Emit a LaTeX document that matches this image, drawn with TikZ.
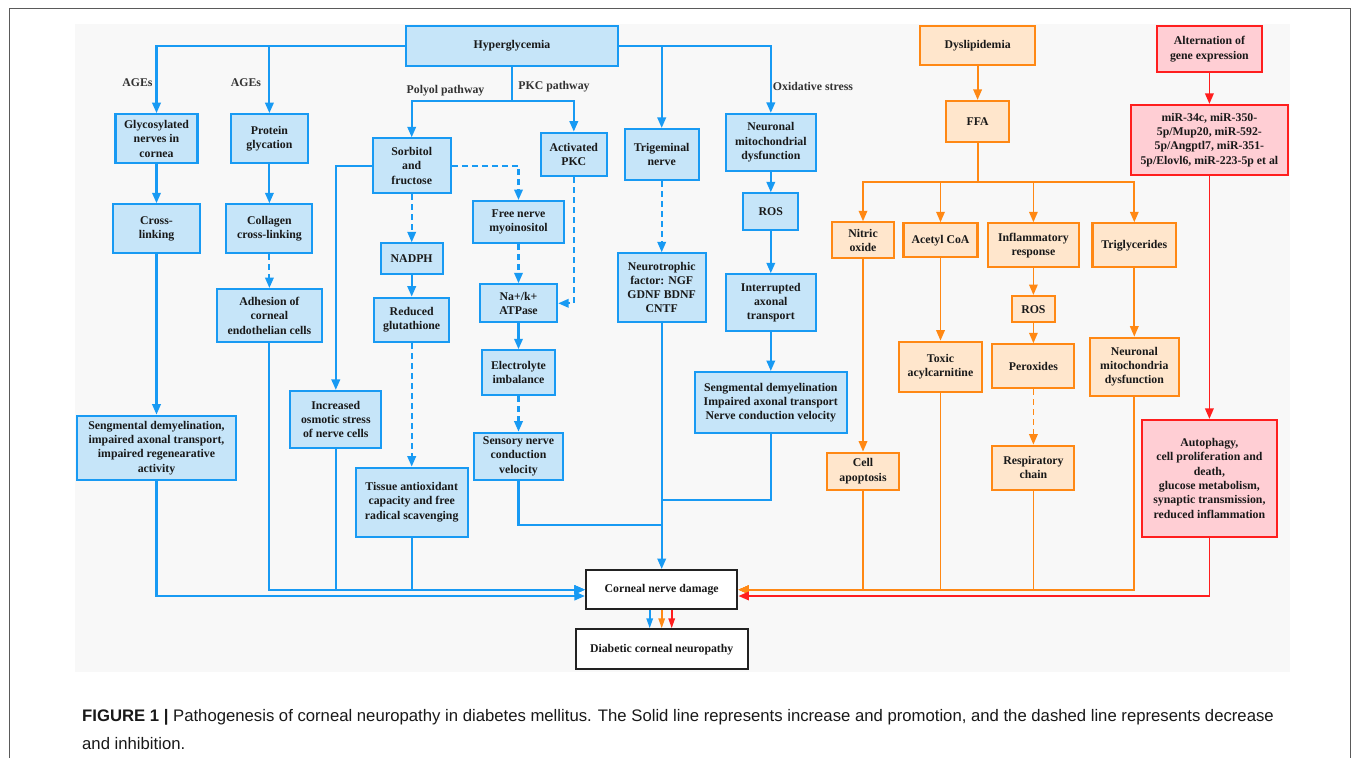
\documentclass[tikz,border=0pt]{standalone}
\usepackage{fontspec}
\setmainfont{Liberation Serif}
\newfontfamily\capfont{Liberation Sans}
\usetikzlibrary{arrows.meta,calc}
\definecolor{bline}{RGB}{24,154,243}
\definecolor{bfill}{RGB}{198,229,249}
\definecolor{oline}{RGB}{255,136,20}
\definecolor{ofill}{RGB}{255,230,204}
\definecolor{rline}{RGB}{255,30,30}
\definecolor{rfill}{RGB}{255,206,212}
\definecolor{kline}{RGB}{34,34,34}
\definecolor{txt}{RGB}{25,25,25}
\definecolor{lbltxt}{RGB}{50,50,50}
\definecolor{panel}{RGB}{248,248,248}
\definecolor{frame}{RGB}{90,90,90}
\begin{document}
\begin{tikzpicture}[x=1pt,y=-1pt,
  box/.style={draw, line width=2.1pt, align=center, inner sep=0pt, text=txt,
    font=\fontsize{11.8}{14.3}\selectfont\bfseries},
  bluebox/.style={box, draw=bline, fill=bfill},
  orangebox/.style={box, draw=oline, fill=ofill},
  redbox/.style={box, draw=rline, fill=rfill},
  blackbox/.style={box, draw=kline, fill=white},
  lbl/.style={inner sep=0pt, text=lbltxt, font=\fontsize{11.8}{14.3}\selectfont\bfseries},
  tip/.style={-{Triangle[length=10.5pt,width=8.5pt]}},
  smalltip/.style={-{Triangle[length=10pt,width=6.5pt]}},
  blp/.style={draw=bline, line width=2.1pt},
  bl/.style={blp, tip},
  bld/.style={bl, dash pattern=on 6pt off 4pt},
  olp/.style={draw=oline, line width=1.8pt},
  ol/.style={olp, tip},
  old/.style={ol, dash pattern=on 6pt off 4pt},
  rlp/.style={draw=rline, line width=1.8pt},
  rl/.style={rlp, tip},
  captxt/.style={inner sep=0pt, anchor=west, text=txt, font=\capfont\fontsize{16.7}{19}\selectfont}
]
\useasboundingbox (0,0) rectangle (1355,758);
\fill[white] (0,0) rectangle (1355,758);
\draw[frame, line width=1pt] (9,758) -- (9,8) -- (1350,8) -- (1350,758);
\fill[panel] (75,24) rectangle (1290,672);

% ---------- blue boxes ----------
\node[bluebox, minimum width=212pt, minimum height=40pt] (hyper) at (512,46) {Hyperglycemia};
\node[bluebox, minimum width=82pt, minimum height=49pt] (glyc) at (156.5,138.7) {Glycosylated\\nerves in\\cornea};
\node[bluebox, minimum width=77.6pt, minimum height=49pt] (prot) at (269.4,138.7) {Protein\\glycation};
\node[bluebox, minimum width=86.4pt, minimum height=49pt] (cross) at (156.5,228.8) {Cross-\\linking};
\node[bluebox, minimum width=86pt, minimum height=49pt] (coll) at (269.4,228.8) {Collagen\\cross-linking};
\node[bluebox, minimum width=105.3pt, minimum height=53.3pt] (adh) at (269.4,315.7) {Adhesion of\\corneal\\endothelian cells};
\node[bluebox, minimum width=159.3pt, minimum height=64.3pt] (seg1) at (156.5,447.8) {Sengmental demyelination,\\impaired axonal transport,\\impaired regenearative\\activity};
\node[bluebox, minimum width=78pt, minimum height=55pt] (sorb) at (411.7,165.8) {Sorbitol\\and\\fructose};
\node[bluebox, minimum width=61.7pt, minimum height=31pt] (nadph) at (411.7,258.8) {NADPH};
\node[bluebox, minimum width=75.3pt, minimum height=44.6pt] (redglu) at (411.7,320) {Reduced\\glutathione};
\node[bluebox, minimum width=91pt, minimum height=57pt] (osm) at (335.8,419.5) {Increased\\osmotic stress\\of nerve cells};
\node[bluebox, minimum width=112.3pt, minimum height=69pt] (tissue) at (411.7,502.2) {Tissue antioxidant\\capacity and free\\radical scavenging};
\node[bluebox, minimum width=65.7pt, minimum height=43.3pt] (pkc) at (573.8,154.3) {Activated\\PKC};
\node[bluebox, minimum width=90.4pt, minimum height=42.3pt] (myo) at (518.5,222.2) {Free nerve\\myoinositol};
\node[bluebox, minimum width=77.3pt, minimum height=38pt] (nak) at (518.5,303.3) {Na+/k+\\ATPase};
\node[bluebox, minimum width=72.7pt, minimum height=45pt] (elec) at (518.5,372.8) {Electrolyte\\imbalance};
\node[bluebox, minimum width=89.6pt, minimum height=47.3pt] (sens) at (518.5,456.3) {Sensory nerve\\conduction\\velocity};
\node[bluebox, minimum width=74pt, minimum height=51pt] (trig) at (661.7,154.5) {Trigeminal\\nerve};
\node[bluebox, minimum width=88pt, minimum height=68.4pt] (neuro) at (661.7,287.5) {Neurotrophic\\factor: NGF\\GDNF BDNF\\CNTF};
\node[bluebox, minimum width=90.3pt, minimum height=56.7pt] (nmd) at (770.8,142.3) {Neuronal\\mitochondrial\\dysfunction};
\node[bluebox, minimum width=55pt, minimum height=36.7pt] (ros) at (770.8,211.7) {ROS};
\node[bluebox, minimum width=90.3pt, minimum height=56.4pt] (iat) at (770.8,302.5) {Interrupted\\axonal\\transport};
\node[bluebox, minimum width=152.3pt, minimum height=61.3pt] (seg2) at (770.8,402.7) {Sengmental demyelination\\Impaired axonal transport\\Nerve conduction velocity};

% ---------- orange boxes ----------
\node[orangebox, minimum width=115pt, minimum height=39pt] (dys) at (977.6,45.5) {Dyslipidemia};
\node[orangebox, minimum width=63.3pt, minimum height=40.7pt] (ffa) at (977.6,121.3) {FFA};
\node[orangebox, minimum width=62.3pt, minimum height=36pt] (no) at (863,240.3) {Nitric\\oxide};
\node[orangebox, minimum width=74pt, minimum height=34pt] (acoa) at (940.5,240.3) {Acetyl CoA};
\node[orangebox, minimum width=90.4pt, minimum height=44pt] (infl) at (1033.4,245.3) {Inflammatory\\response};
\node[orangebox, minimum width=83.7pt, minimum height=44pt] (trigly) at (1134.3,245.3) {Triglycerides};
\node[orangebox, minimum width=42.4pt, minimum height=26.3pt] (ros2) at (1033.4,309.2) {ROS};
\node[orangebox, minimum width=82pt, minimum height=44pt] (perox) at (1033.4,366.3) {Peroxides};
\node[orangebox, minimum width=82pt, minimum height=44.3pt] (resp) at (1033.4,467.8) {Respiratory\\chain};
\node[orangebox, minimum width=71.7pt, minimum height=37.3pt] (apop) at (863,471.3) {Cell\\apoptosis};
\node[orangebox, minimum width=83.3pt, minimum height=50pt] (toxic) at (940.5,366.7) {Toxic\\acylcarnitine};
\node[orangebox, minimum width=89pt, minimum height=58pt] (nmito) at (1134.3,366.7) {Neuronal\\mitochondria\\dysfunction};

% ---------- red boxes ----------
\node[redbox, minimum width=104.4pt, minimum height=46.3pt] (alt) at (1209.4,49.2) {Alternation of\\gene expression};
\node[redbox, minimum width=157.6pt, minimum height=69.7pt] (mir) at (1209.4,139.8) {miR-34c, miR-350-\\5p/Mup20, miR-592-\\5p/Angptl7, miR-351-\\5p/Elovl6, miR-223-5p et al};
\node[redbox, minimum width=135pt, minimum height=116.7pt] (auto) at (1209.4,478.3) {Autophagy,\\cell proliferation and\\death,\\glucose metabolism,\\synaptic transmission,\\reduced inflammation};

% ---------- black boxes ----------
\node[blackbox, minimum width=151.4pt, minimum height=39.3pt] (cnd) at (661.7,589.7) {Corneal nerve damage};
\node[blackbox, minimum width=172pt, minimum height=40pt] (dcn) at (661.7,649.3) {Diabetic corneal neuropathy};

% ---------- labels ----------
\node[lbl] (lages1) at (137.5,83) {AGEs};
\node[lbl] (lages2) at (246,83) {AGEs};
\node[lbl] (lpoly) at (445.5,91) {Polyol pathway};
\node[lbl] (lpkc) at (554,86.7) {PKC pathway};
\node[lbl] (lox) at (813,86.7) {Oxidative stress};

% ---------- blue connectors ----------
\draw[bl] (hyper.west) -| (glyc.north);
\draw[bl] (hyper.west) -| (prot.north);
\draw[bl] (hyper.east) -| (trig.north);
\draw[bl] (hyper.east) -| (nmd.north);
\coordinate (hsplit) at ($(hyper.south)+(0,34)$);
\draw[bl] (hyper.south) -- (hsplit) -| (sorb.north);
\draw[bl] (hsplit) -| (pkc.north);
\draw[bl] (glyc.south) -- (cross.north);
\draw[bl] (cross.south) -- (seg1.north);
\draw[bl] (prot.south) -- (coll.north);
\draw[bld] (coll.south) -- (adh.north);
\draw[bld] (sorb.east) -| (myo.north);
\draw[bl] (sorb.west) -| (osm.north);
\draw[bld] (sorb.south) -- (nadph.north);
\draw[bl] (nadph.south) -- (redglu.north);
\draw[bld] (redglu.south) -- (tissue.north);
\draw[bld] (pkc.south) |- (nak.east);
\draw[bld] (myo.south) -- (nak.north);
\draw[bl] (nak.south) -- (elec.north);
\draw[bld] (elec.south) -- (sens.north);
\draw[bld] (trig.south) -- (neuro.north);
\draw[bl] (nmd.south) -- (ros.north);
\draw[bl] (ros.south) -- (iat.north);
\draw[bl] (iat.south) -- (seg2.north);

\coordinate (inL2) at ($(cnd.west)+(0,6.3)$);
\draw[bl] (seg1.south) |- (inL2);
\draw[bl] (adh.south) |- (cnd.west);
\draw[bl] (osm.south) |- (cnd.west);
\draw[bl] (tissue.south) |- (cnd.west);
\coordinate (j1) at (661.7,525);
\coordinate (j2) at (661.7,500);
\draw[blp] (sens.south) |- (j1);
\draw[blp] (seg2.south) |- (j2);
\draw[bl] (neuro.south) -- (cnd.north);

% ---------- orange connectors ----------
\draw[ol] (dys.south) -- (ffa.north);
\coordinate (ofork) at (977.6,182.3);
\draw[olp] (ffa.south) -- (ofork);
\draw[ol] (ofork) -| (no.north);
\draw[ol] (ofork) -| (acoa.north);
\draw[ol] (ofork) -| (infl.north);
\draw[ol] (ofork) -| (trigly.north);
\draw[ol] (infl.south) -- (ros2.north);
\draw[ol] (ros2.south) -- (perox.north);
\draw[old] (perox.south) -- (resp.north);
\draw[ol] (no.south) -- (apop.north);
\draw[ol] (acoa.south) -- (toxic.north);
\draw[ol] (trigly.south) -- (nmito.north);
\draw[ol] (apop.south) |- (cnd.east);
\draw[ol] (toxic.south) |- (cnd.east);
\draw[ol] (resp.south) |- (cnd.east);
\draw[ol] (nmito.south) |- (cnd.east);

% ---------- red connectors ----------
\draw[rl] (alt.south) -- (mir.north);
\draw[rl] (mir.south) -- (auto.north);
\coordinate (inR2) at ($(cnd.east)+(0,6.3)$);
\draw[rl] (auto.south) |- (inR2);

% ---------- to final box ----------
\draw[draw=bline, line width=1.6pt, smalltip] ($(cnd.south)+(-12,0)$) -- ($(dcn.north)+(-12,0)$);
\draw[draw=oline, line width=1.6pt, smalltip] (cnd.south) -- (dcn.north);
\draw[draw=rline, line width=1.6pt, smalltip] ($(cnd.south)+(10,0)$) -- ($(dcn.north)+(10,0)$);

% ---------- caption ----------
\node[captxt] (cap1) at (82,717) {\textbf{FIGURE 1 |} Pathogenesis of corneal neuropathy in diabetes mellitus. The Solid line represents increase and promotion, and the dashed line represents decrease};
\node[captxt] (cap2) at (82,744) {and inhibition.};
\end{tikzpicture}
\end{document}
